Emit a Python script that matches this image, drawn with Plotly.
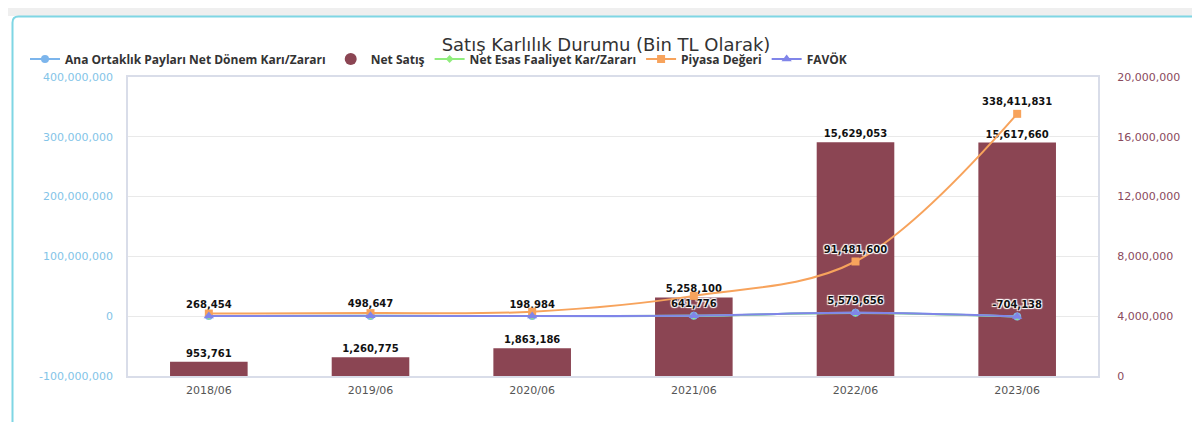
import plotly.graph_objects as go

periods = ["2018/06", "2019/06", "2020/06", "2021/06", "2022/06", "2023/06"]
net_satis = [953761, 1260775, 1863186, 5258100, 15629053, 15617660]
ana_ortaklik = [268454, 498647, 198984, 641776, 5579656, -704138]
net_esas = [300000, 550000, 250000, 700000, 5400000, -500000]
piyasa = [4500000, 5200000, 7500000, 34000000, 91481600, 338411831]
favok = [350000, 600000, 300000, 800000, 5600000, -300000]

left_ticks = [-100000000, 0, 100000000, 200000000, 300000000, 400000000]
right_ticks = [0, 4000000, 8000000, 12000000, 16000000, 20000000]


def fmt(v):
    return f"{v:,.0f}"


# figure sits at page offset (8, 8) because of the body margin
FW, FH = 1184, 414
ML, MR, MT, MB = 120, 94, 69, 46
PW, PH = FW - ML - MR, FH - MT - MB


def px(page_x):
    return (page_x - 8 - ML) / PW


def py(page_y):
    return (FH - MB - (page_y - 8)) / PH


label_font = dict(family="DejaVu Sans", size=10, color="#111111", weight="bold",
                  shadow="1px 1px 1px #fff, -1px -1px 1px #fff, 1px -1px 1px #fff, -1px 1px 1px #fff")

fig = go.Figure()

# Net Satış bars (right axis)
fig.add_trace(go.Bar(
    x=periods, y=net_satis, yaxis="y", name="Net Satış", showlegend=False,
    marker=dict(color="#8b4553", line=dict(width=0)), width=0.48,
    text=[fmt(v) for v in net_satis], textposition="outside", cliponaxis=False,
    textfont=label_font, constraintext="none",
))

fig.add_trace(go.Scatter(
    x=periods, y=ana_ortaklik, yaxis="y2", name="Ana Ortaklık Payları Net Dönem Karı/Zararı",
    mode="lines+markers+text", line=dict(color="#7cb5ec", width=2, shape="spline"),
    marker=dict(symbol="circle", size=8, color="#7cb5ec"),
    text=[fmt(v) for v in ana_ortaklik], textposition="top center", textfont=label_font,
    cliponaxis=False, legendrank=1,
))
fig.add_trace(go.Scatter(
    x=[None], y=[None], yaxis="y2", name="Net Satış", mode="markers",
    marker=dict(symbol="circle", size=12, color="#8b4553"), legendrank=2,
))
fig.add_trace(go.Scatter(
    x=periods, y=net_esas, yaxis="y2", name="Net Esas Faaliyet Kar/Zararı",
    mode="lines+markers", line=dict(color="#90ed7d", width=2, shape="spline"),
    marker=dict(symbol="diamond", size=6, color="#90ed7d"), legendrank=3,
))
fig.add_trace(go.Scatter(
    x=periods, y=piyasa, yaxis="y2", name="Piyasa Değeri",
    mode="lines+markers+text", line=dict(color="#f7a35c", width=2, shape="spline"),
    marker=dict(symbol="square", size=8, color="#f7a35c"),
    text=["", "", "", "", fmt(piyasa[4]), fmt(piyasa[5])], textposition="top center",
    textfont=label_font, cliponaxis=False, legendrank=4,
))
fig.add_trace(go.Scatter(
    x=periods, y=favok, yaxis="y2", name="FAVÖK",
    mode="lines+markers", line=dict(color="#8085e9", width=2, shape="spline"),
    marker=dict(symbol="triangle-up", size=9, color="#8085e9"), legendrank=5,
))

# card background and frame
shapes = []
shapes.append(dict(type="rect", xref="paper", yref="paper", x0=px(0), x1=px(1200), y0=py(0), y1=py(16),
                   fillcolor="#efefef", line=dict(width=0), layer="below"))
r = 6
x0, x1, y0, y1 = 12.5, 1197.5, 16.5, 428
path = (f"M {px(x0 + r)},{py(y0)} L {px(x1 - r)},{py(y0)} Q {px(x1)},{py(y0)} {px(x1)},{py(y0 + r)} "
        f"L {px(x1)},{py(y1 - r)} Q {px(x1)},{py(y1)} {px(x1 - r)},{py(y1)} "
        f"L {px(x0 + r)},{py(y1)} Q {px(x0)},{py(y1)} {px(x0)},{py(y1 - r)} "
        f"L {px(x0)},{py(y0 + r)} Q {px(x0)},{py(y0)} {px(x0 + r)},{py(y0)} Z")
shapes.append(dict(type="path", xref="paper", yref="paper", path=path, fillcolor="#ffffff",
                   line=dict(color="#7fd6e4", width=2), layer="below"))

tick_font = dict(family="DejaVu Sans", size=11)

fig.update_layout(
    width=FW, height=FH,
    margin=dict(l=ML, r=MR, t=MT, b=MB, pad=0),
    paper_bgcolor="#ffffff", plot_bgcolor="rgba(0,0,0,0)",
    shapes=shapes,
    barmode="overlay",
    title=dict(text="Satış Karlılık Durumu (Bin TL Olarak)", x=(606 - 8) / FW, xanchor="center",
               y=1 - (45 - 8) / FH, yanchor="middle", yref="container",
               font=dict(family="DejaVu Sans", size=18, color="#333333")),
    legend=dict(orientation="h", x=px(25), xanchor="left", y=py(59), yanchor="middle",
                font=dict(family="Open Sans", size=12, color="#333333", weight="bold"),
                bgcolor="rgba(0,0,0,0)", tracegroupgap=0, itemwidth=30),
    xaxis=dict(type="category", categoryorder="array", categoryarray=periods,
               showgrid=False, showline=True, linecolor="#d9dde9", linewidth=2, mirror=True,
               ticks="", tickfont=dict(tick_font, color="#555555"), ticklabelstandoff=3,
               zeroline=False),
    yaxis=dict(side="right", range=[0, 20000000], tickvals=right_ticks,
               ticktext=[fmt(v) for v in right_ticks], showgrid=True, gridcolor="#e9e9e9",
               showline=True, linecolor="#d9dde9", linewidth=2, mirror=True,
               zeroline=False, tickfont=dict(tick_font, color="#8a4a5d"), ticklabelstandoff=15),
    yaxis2=dict(side="left", overlaying="y", anchor="x", range=[-100000000, 400000000],
                tickvals=left_ticks, ticktext=[fmt(v) for v in left_ticks], showgrid=False,
                zeroline=False, tickfont=dict(tick_font, color="#83c4e8"), ticklabelstandoff=14),
)

fig.write_html("out.html")
